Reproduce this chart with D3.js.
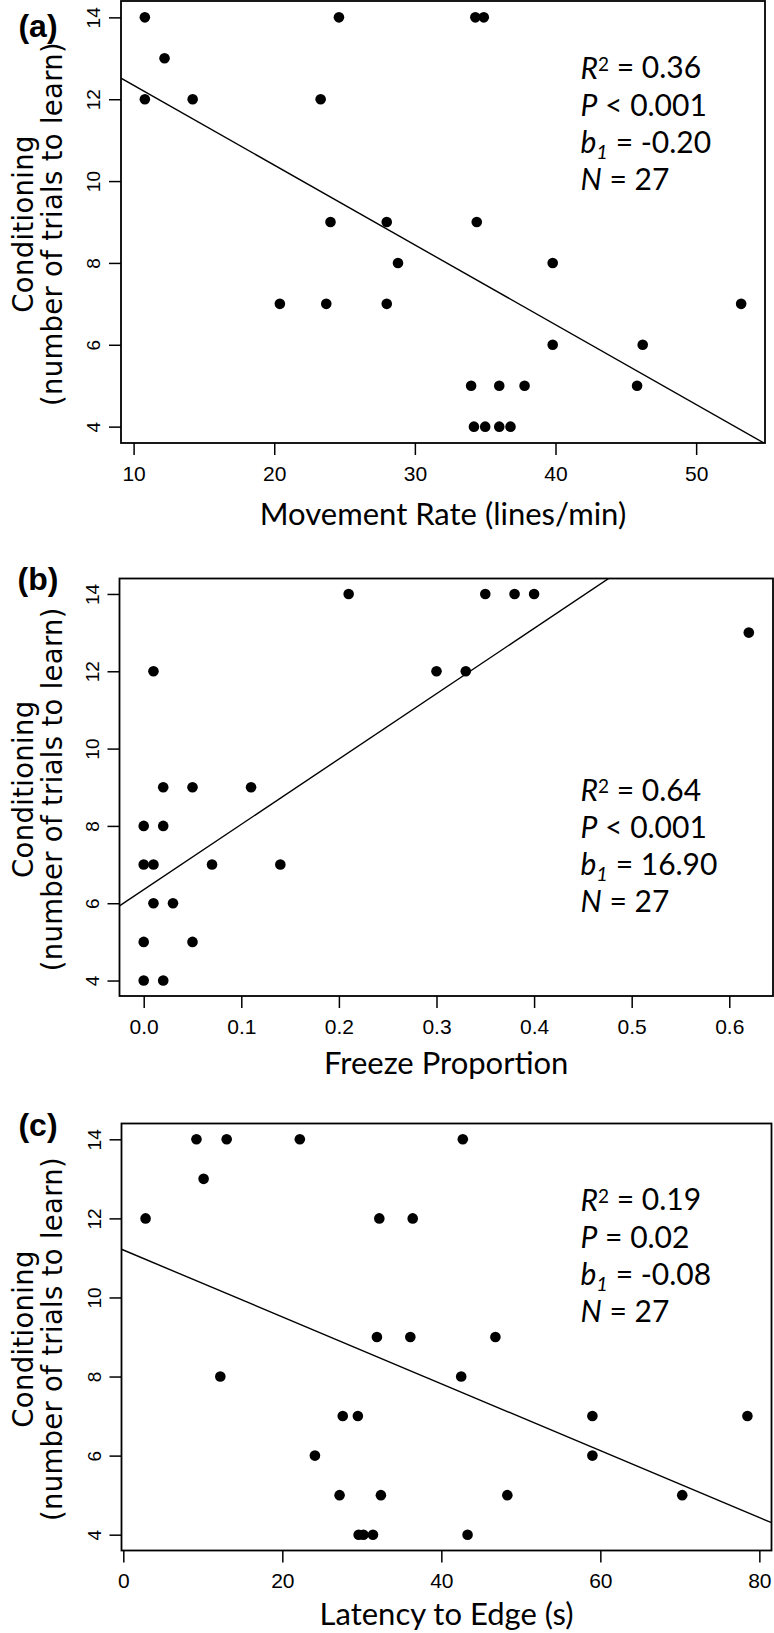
<!DOCTYPE html>
<html>
<head>
<meta charset="utf-8">
<script src="https://cdn.jsdelivr.net/npm/d3@7"></script>
<style>
  body { margin: 0; background: #fff; }
  svg { display: block; }
</style>
</head>
<body>
<div id="chart"></div>
<script>
// ---- datos ----
// (a) tasa de movimiento vs ensayos para aprender
var movementRate = [10.8, 24.6, 34.3, 34.9, 12.2, 10.8, 14.2, 23.3, 24.0, 28.0, 34.4, 28.8, 39.8,
                    20.4, 23.7, 28.0, 53.2, 39.8, 46.2, 34.0, 36.0, 37.8, 45.8, 34.2, 35.0, 36.0, 36.8];
var trialsA      = [14, 14, 14, 14, 13, 12, 12, 12, 9, 9, 9, 8, 8,
                    7, 7, 7, 7, 6, 6, 5, 5, 5, 5, 4, 4, 4, 4];

// (b) proporcion de congelamiento
var freezeProp = [0.21, 0.35, 0.38, 0.40, 0.62, 0.01, 0.30, 0.33, 0.02, 0.05, 0.11, 0.00,
                  0.02, 0.00, 0.01, 0.07, 0.14, 0.01, 0.03, 0.00, 0.05, 0.00, 0.02];
var trialsB    = [14, 14, 14, 14, 13, 12, 12, 12, 9, 9, 9, 8,
                  8, 7, 7, 7, 7, 6, 6, 5, 5, 4, 4];

// (c) latencia al borde
var latencyEdge = [9.2, 13.0, 22.2, 42.7, 10.1, 2.8, 32.2, 36.4, 31.9, 36.1, 46.8, 12.2, 42.5,
                   27.6, 29.5, 59.0, 78.5, 24.1, 59.0, 27.2, 32.4, 48.3, 70.3, 29.6, 30.2, 31.4, 43.3];
var trialsC     = [14, 14, 14, 14, 13, 12, 12, 12, 9, 9, 9, 8, 8,
                   7, 7, 7, 7, 6, 6, 5, 5, 5, 5, 4, 4, 4, 4];

// ticks
var yTicks  = [4, 6, 8, 10, 12, 14];
var xTicksA = [10, 20, 30, 40, 50];
var xTicksB = [0, 0.1, 0.2, 0.3, 0.4, 0.5, 0.6];
var xTicksC = [0, 20, 40, 60, 80];

// rectas de regresion [intercepto, pendiente]
var fitA = [14.29, -0.195];
var fitB = [6.35, 16.9];
var fitC = [11.2, -0.0846];

// estadisticos [R2, P, b1, N]
var statsA = ["0.36", "< 0.001", "-0.20", "27"];
var statsB = ["0.64", "< 0.001", "16.90", "27"];
var statsC = ["0.19", "= 0.02", "-0.08", "27"];

var labels  = ["(a)", "(b)", "(c)"];
var xTitles = ["Movement Rate (lines/min)", "Freeze Proportion", "Latency to Edge (s)"];
var yTitle1 = "Conditioning";
var yTitle2 = "(number of trials to learn)";

// ---- parametros de la grafica ----
var width = 774;
var height = 1633;
var radio = 5.3;
var fuenteTicks = "'Liberation Sans', Arial, sans-serif";
var fuenteTitulo = "Lato, 'Open Sans', sans-serif";
var fuenteY = "'DejaVu Sans', Verdana, sans-serif";

var panels = [
  { xs: movementRate, ys: trialsA, xTicks: xTicksA, fit: fitA, stats: statsA, fmt: d3.format("d"),
    left: 121, right: 765, top: 1, bottom: 443, labelY: 26, titleY: 514, statsY: 68 },
  { xs: freezeProp, ys: trialsB, xTicks: xTicksB, fit: fitB, stats: statsB, fmt: d3.format(".1f"),
    left: 119.5, right: 773, top: 578.5, bottom: 996, labelY: 579, titleY: 1063, statsY: 790.5 },
  { xs: latencyEdge, ys: trialsC, xTicks: xTicksC, fit: fitC, stats: statsC, fmt: d3.format("d"),
    left: 121.5, right: 771.5, top: 1123.5, bottom: 1550.5, labelY: 1125, titleY: 1614, statsY: 1200 }
];

// R extiende el rango 4% a cada lado
function pad(ext) {
  var d = (ext[1] - ext[0]) * 0.04;
  return [ext[0] - d, ext[1] + d];
}

var svg = d3.select("#chart").append("svg")
  .attr("width", width)
  .attr("height", height);

panels.forEach(function (p, i) {
  var x = d3.scaleLinear().domain(pad(d3.extent(p.xs))).range([p.left, p.right]);
  var y = d3.scaleLinear().domain(pad(d3.extent(p.ys))).range([p.bottom, p.top]);

  var g = svg.append("g");

  g.append("clipPath").attr("id", "clip" + i)
    .append("rect")
    .attr("x", p.left).attr("y", p.top)
    .attr("width", p.right - p.left).attr("height", p.bottom - p.top);

  /* puntos */
  g.append("g").selectAll("circle")
    .data(p.xs.map((d, k) => [d, p.ys[k]])).enter()
    .append("circle")
    .attr("cx", d => x(d[0]))
    .attr("cy", d => y(d[1]))
    .attr("r", radio)
    .attr("fill", "#000");

  /* recta de regresion */
  var dom = x.domain();
  var linea = d3.line()
    .x(d => x(d))
    .y(d => y(p.fit[0] + p.fit[1] * d));
  g.append("path")
    .attr("d", linea(dom))
    .attr("clip-path", "url(#clip" + i + ")")
    .attr("fill", "none")
    .attr("stroke", "#000")
    .attr("stroke-width", 1.4);

  /* ejes */
  var xAxis = g.append("g")
    .attr("transform", `translate(0, ${p.bottom})`)
    .call(d3.axisBottom(x).tickValues(p.xTicks).tickFormat(p.fmt).tickSize(12));
  xAxis.select(".domain").remove();
  xAxis.selectAll("line").attr("stroke-width", 1.5);
  xAxis.selectAll("text")
    .attr("y", 30).attr("dy", "0.36em")
    .style("font-family", fuenteTicks)
    .style("font-size", "21px")
    .attr("fill", "#000");

  var yAxis = g.append("g")
    .attr("transform", `translate(${p.left}, 0)`)
    .call(d3.axisLeft(y).tickValues(yTicks).tickSize(12));
  yAxis.select(".domain").remove();
  yAxis.selectAll("line").attr("stroke-width", 1.5);
  yAxis.selectAll("text")
    .attr("transform", "rotate(-90)")
    .attr("x", 0).attr("y", -21).attr("dy", 0)
    .attr("text-anchor", "middle")
    .style("font-family", fuenteTicks)
    .style("font-size", "19px")
    .attr("fill", "#000");

  /* caja */
  g.append("rect")
    .attr("x", p.left).attr("y", p.top)
    .attr("width", p.right - p.left).attr("height", p.bottom - p.top)
    .attr("fill", "none")
    .attr("stroke", "#000")
    .attr("stroke-width", 1.8);

  /* titulos */
  g.append("text")
    .attr("x", (p.left + p.right) / 2)
    .attr("y", p.titleY)
    .attr("dy", "0.35em")
    .attr("text-anchor", "middle")
    .style("font-family", fuenteTitulo)
    .style("font-size", "31px")
    .text(xTitles[i]);

  var yt = g.append("g")
    .attr("transform", `translate(0, ${(p.top + p.bottom) / 2 + 2}) rotate(-90)`)
    .style("font-family", fuenteY)
    .style("font-size", "27.5px")
    .style("letter-spacing", "0.3px")
    .attr("text-anchor", "middle");
  yt.append("text").attr("x", 0).attr("y", 33).text(yTitle1);
  yt.append("text").attr("x", 0).attr("y", 62).text(yTitle2);

  g.append("text")
    .attr("x", 38)
    .attr("y", p.labelY)
    .attr("dy", "0.35em")
    .attr("text-anchor", "middle")
    .style("font-family", fuenteTicks)
    .style("font-weight", "bold")
    .style("font-size", "32px")
    .text(labels[i]);

  /* estadisticos */
  var st = g.append("g")
    .style("font-family", fuenteTitulo)
    .style("font-size", "30px");
  var x0 = 580.5;
  var lh = 37;

  var t1 = st.append("text").attr("x", x0).attr("y", p.statsY).attr("dy", "0.35em");
  t1.append("tspan").style("font-style", "italic").text("R");
  t1.append("tspan").attr("dy", "-0.4em").style("font-size", "19px").text("2");
  t1.append("tspan").attr("dy", "0.25em").text(" = " + p.stats[0]);

  var t2 = st.append("text").attr("x", x0).attr("y", p.statsY + lh).attr("dy", "0.35em");
  t2.append("tspan").style("font-style", "italic").text("P");
  t2.append("tspan").text(" " + p.stats[1]);

  var t3 = st.append("text").attr("x", x0).attr("y", p.statsY + 2 * lh).attr("dy", "0.35em");
  t3.append("tspan").style("font-style", "italic").text("b");
  t3.append("tspan").attr("dy", "0.3em").style("font-style", "italic").style("font-size", "20px").text("1");
  t3.append("tspan").attr("dy", "-0.2em").text(" = " + p.stats[2]);

  var t4 = st.append("text").attr("x", x0).attr("y", p.statsY + 3 * lh).attr("dy", "0.35em");
  t4.append("tspan").style("font-style", "italic").text("N");
  t4.append("tspan").text(" = " + p.stats[3]);
});
</script>
</body>
</html>
